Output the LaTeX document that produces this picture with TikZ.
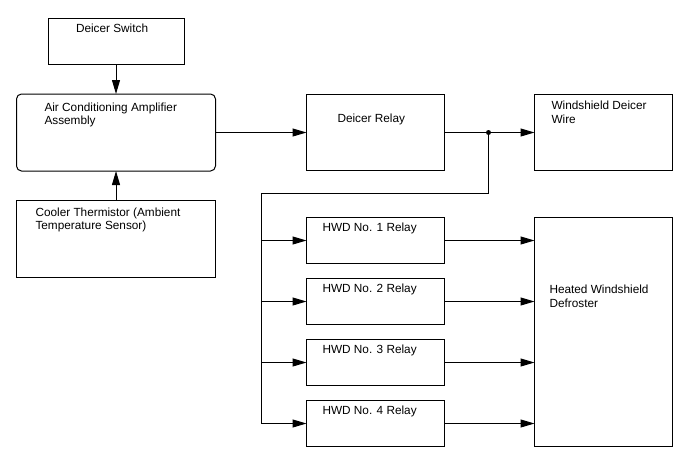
\documentclass[tikz,border=0pt]{standalone}
\usepackage{fontspec}
\setmainfont{Liberation Sans}
\usetikzlibrary{positioning, arrows.meta}

\begin{document}
\begin{tikzpicture}[x=1pt, y=1pt, >={Triangle[length=14pt, width=8pt]},
    line width=1pt,
    every node/.style={inner sep=0pt, outer sep=0pt},
    block/.style={draw, minimum width=138pt, minimum height=76pt},
    relaybox/.style={draw, minimum width=138pt, minimum height=46pt},
    txt/.style={align=left, font=\fontsize{11.8}{13.8}\selectfont}]

    \useasboundingbox (0,0) rectangle (688,-463);

    % Left column
    \node[block, minimum width=136pt, minimum height=46pt] (dsw) at (116,-41) {};
    \node[block, minimum width=199pt, minimum height=77pt, rounded corners=5pt,
        below=30pt of dsw] (amp) {};
    \node[block, minimum width=199pt, minimum height=77pt,
        below=29pt of amp] (thm) {};

    % Deicer relay and wire
    \node[block, right=91pt of amp] (drl) {};
    \node[block, right=90pt of drl] (wdw) {};

    % HWD relays and defroster
    \node[relaybox, below=47pt of drl] (hwd1) {};
    \node[relaybox, below=15pt of hwd1] (hwd2) {};
    \node[relaybox, below=15pt of hwd2] (hwd3) {};
    \node[relaybox, below=15pt of hwd3] (hwd4) {};
    \node[block, minimum height=229pt, below=47pt of wdw] (hdf) {};

    % Texts
    \node[txt, below right=5.5pt and 28pt of dsw.north west] (dswt) {Deicer Switch};
    \node[txt, below right=8.5pt and 28pt of amp.north west] (ampt) {Air Conditioning Amplifier\\Assembly};
    \node[txt, below right=7.5pt and 19pt of thm.north west] (thmt) {Cooler Thermistor (Ambient\\Temperature Sensor)};
    \node[txt, below right=19.5pt and 31pt of drl.north west] (drlt) {Deicer Relay};
    \node[txt, below right=6.5pt and 17pt of wdw.north west] (wdwt) {Windshield Deicer\\Wire};
    \foreach \i in {1,...,4}
        \node[txt, below right=5.5pt and 16pt of hwd\i.north west] (hwd\i t) {HWD No. \i\ Relay};
    \node[txt, below right=67.5pt and 15pt of hdf.north west] (hdft) {Heated Windshield\\Defroster};

    % Connections
    \draw[->] (dsw) -- (amp);
    \draw[->] (thm) -- (amp);
    \draw[->] (amp) -- (drl);
    \draw[->] (drl) -- (wdw);

    \coordinate[right=44pt of drl] (jn);
    \coordinate[below=61pt of jn] (bend);
    \fill (jn) circle (2.5pt);
    \foreach \i in {1,...,4}
        \coordinate[left=45pt of hwd\i] (b\i);
    \draw (jn) -- (bend) -- (bend -| b1) -- (b4);
    \foreach \i in {1,...,4} {
        \draw[->] (b\i) -- (hwd\i);
        \draw[->] (hwd\i) -- (hwd\i.east -| hdf.west);
    }
\end{tikzpicture}
\end{document}
